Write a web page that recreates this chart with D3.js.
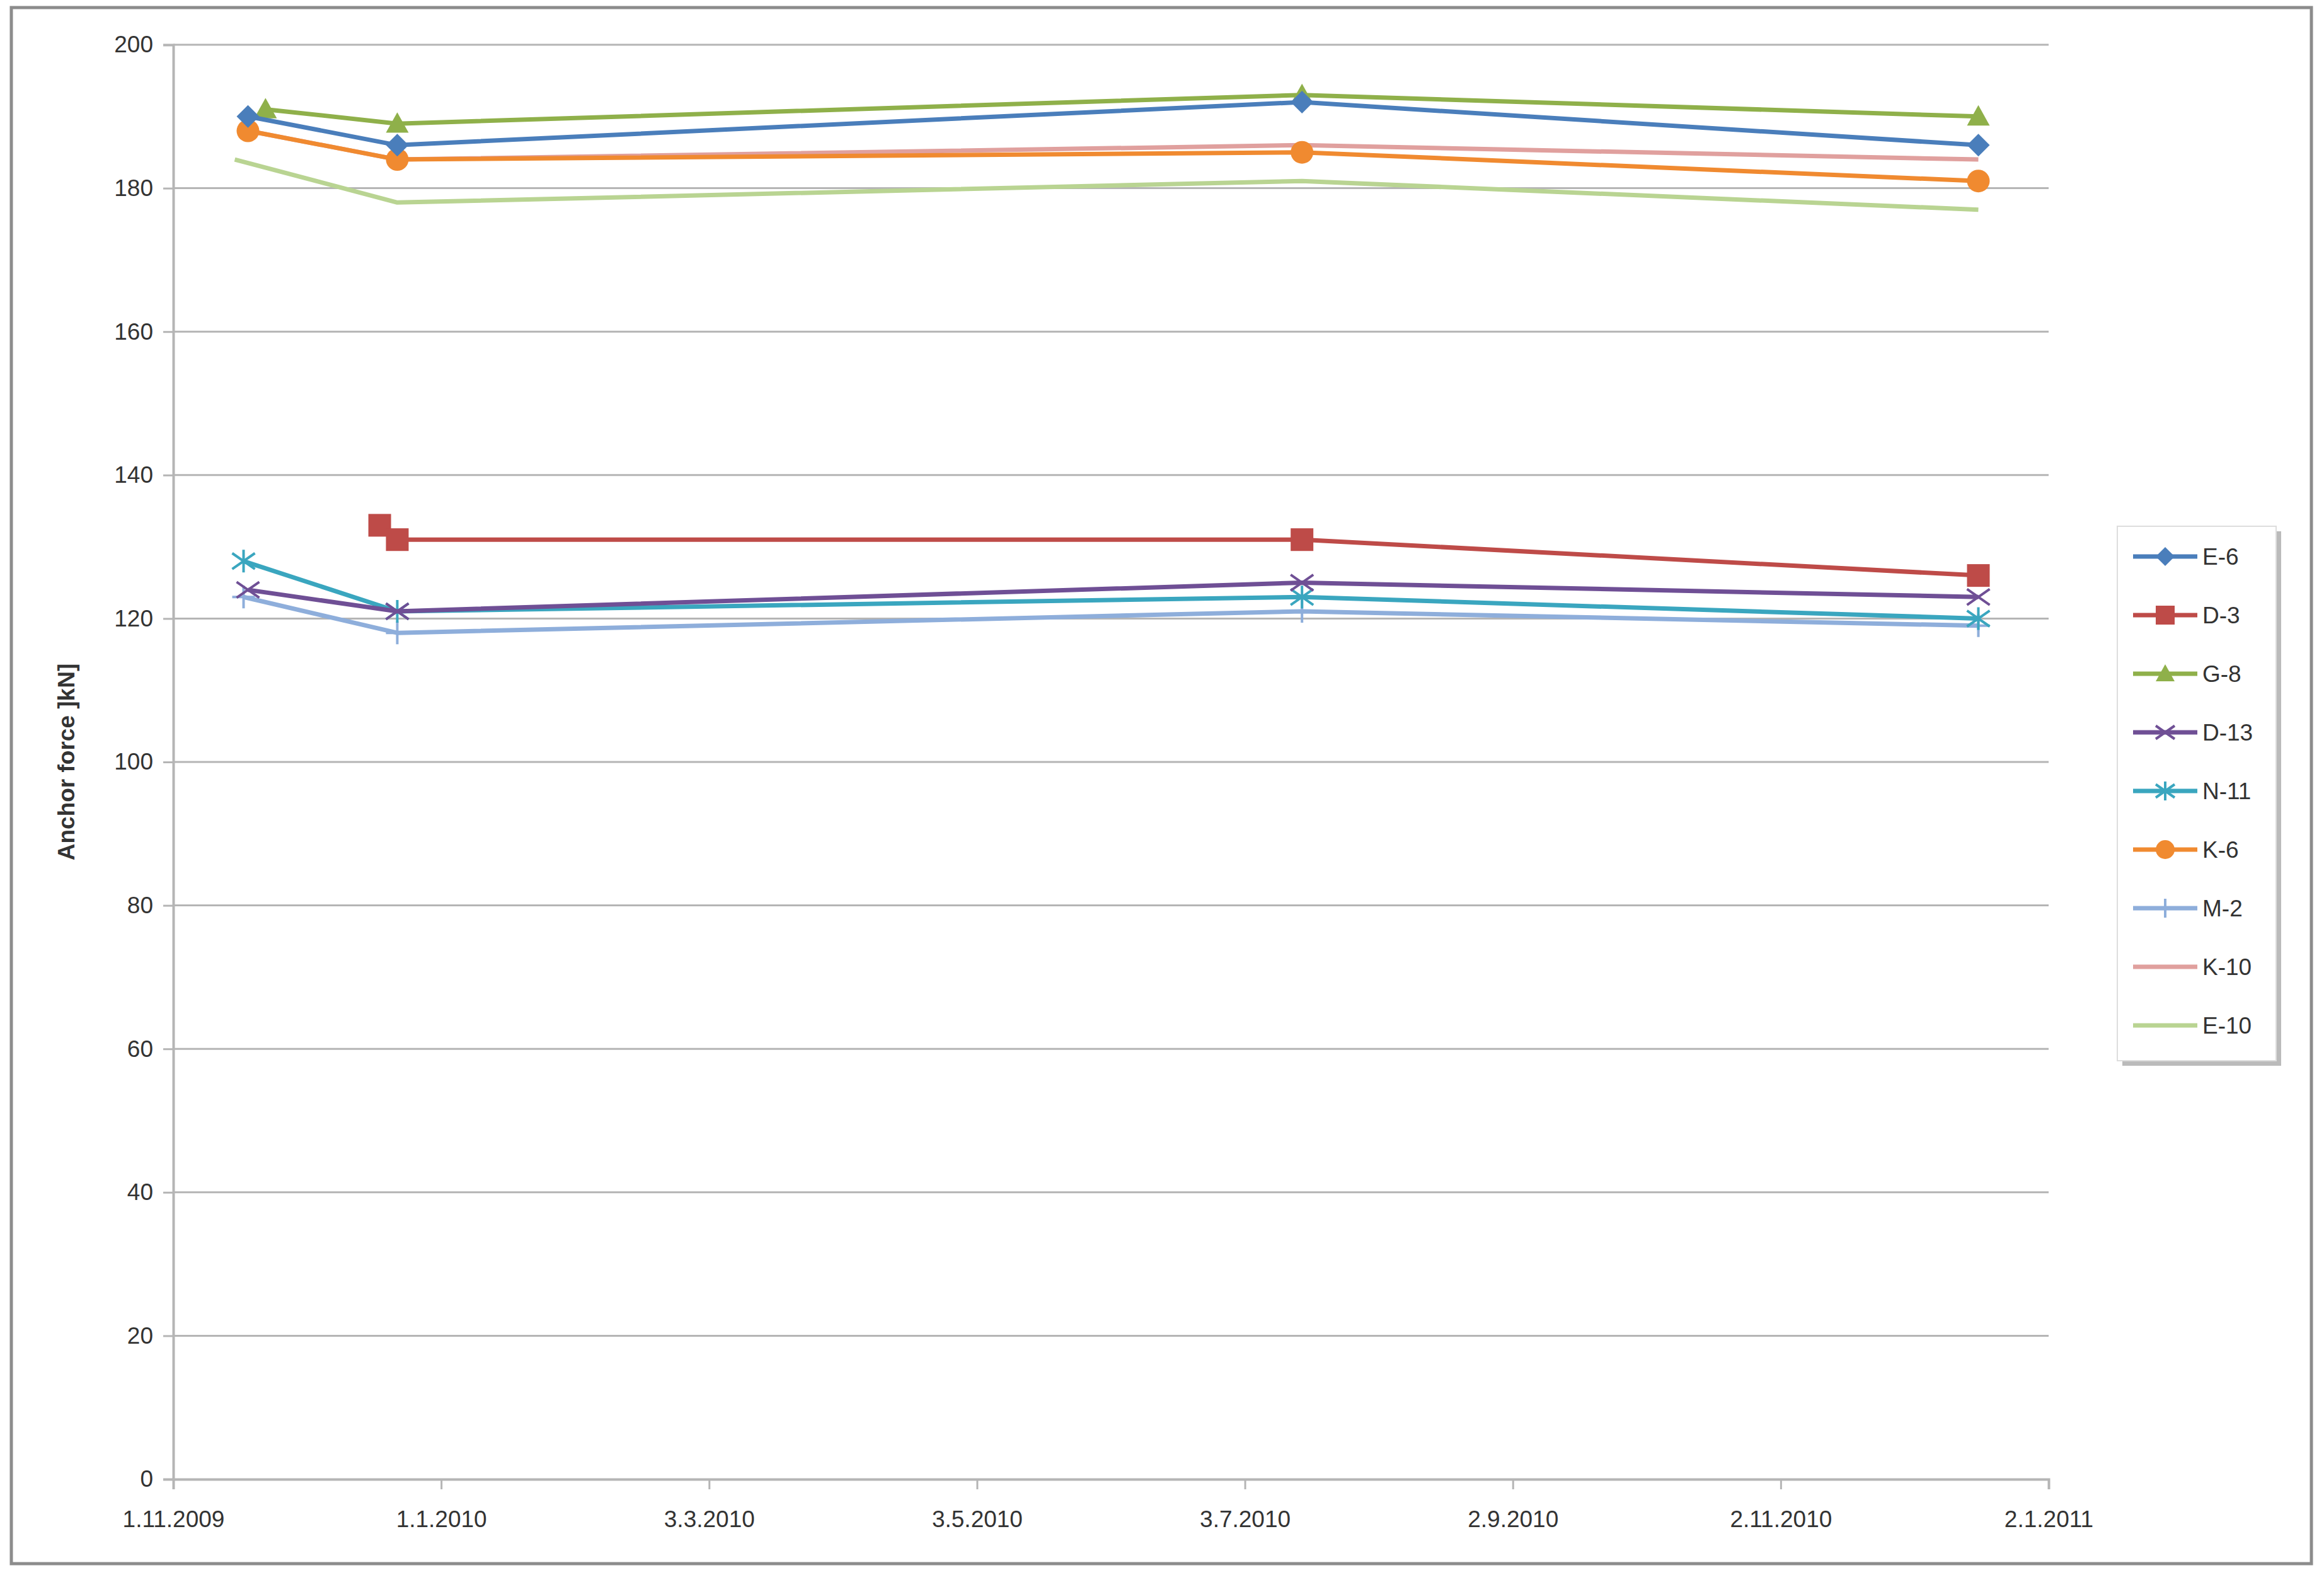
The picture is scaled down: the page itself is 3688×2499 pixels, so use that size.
<!DOCTYPE html>
<html>
<head>
<meta charset="utf-8">
<script src="https://cdn.jsdelivr.net/npm/d3@7"></script>
<style>
  body { margin: 0; background: #fff; }
  text { font-family: "Liberation Sans", Arial, sans-serif; fill: #333; }
</style>
</head>
<body>
<div id="chart"></div>
<script>
const seriesNames = ["E-6", "D-3", "G-8", "D-13", "N-11", "K-6", "M-2", "K-10", "E-10"];
const seriesColors = ["#4a7ebb", "#be4b48", "#8fb04a", "#6f4f95", "#3aa6bf", "#f08a30", "#8eaedb", "#e0a09e", "#b9d492"];
const seriesMarkers = ["diamond", "square", "triangle", "x", "asterisk", "circle", "plus", "none", "none"];

const seriesDates = [
  ["2009-11-18", "2009-12-22", "2010-07-16", "2010-12-17"],
  ["2009-12-18", "2009-12-22", "2010-07-16", "2010-12-17"],
  ["2009-11-22", "2009-12-22", "2010-07-16", "2010-12-17"],
  ["2009-11-18", "2009-12-22", "2010-07-16", "2010-12-17"],
  ["2009-11-17", "2009-12-22", "2010-07-16", "2010-12-17"],
  ["2009-11-18", "2009-12-22", "2010-07-16", "2010-12-17"],
  ["2009-11-17", "2009-12-22", "2010-07-16", "2010-12-17"],
  ["2009-11-18", "2009-12-22", "2010-07-16", "2010-12-17"],
  ["2009-11-15", "2009-12-22", "2010-07-16", "2010-12-17"]
];
const seriesValues = [
  [190, 186, 192, 186],
  [133, 131, 131, 126],
  [191, 189, 193, 190],
  [124, 121, 125, 123],
  [128, 121, 123, 120],
  [188, 184, 185, 181],
  [123, 118, 121, 119],
  [188, 184, 186, 184],
  [184, 178, 181, 177]
];

const xTickLabels = ["1.11.2009", "1.1.2010", "3.3.2010", "3.5.2010", "3.7.2010", "2.9.2010", "2.11.2010", "2.1.2011"];
const yTicks = [0, 20, 40, 60, 80, 100, 120, 140, 160, 180, 200];

const W = 3688, H = 2499;
const margin = {top: 71, right: 437, bottom: 152, left: 275};
const width = W - margin.left - margin.right,
    height = H - margin.top - margin.bottom;

const parse = d3.timeParse("%Y-%m-%d");
const start = parse("2009-11-01"), end = parse("2011-01-02");
const tickDates = d3.range(8).map(i => d3.timeDay.offset(start, i * 61));

const svg = d3.select("#chart").append("svg")
  .attr("width", W).attr("height", H);

svg.append("rect")
  .attr("x", 18).attr("y", 12).attr("width", W - 38).attr("height", H - 30)
  .attr("fill", "#fff").attr("stroke", "#8c8c8c").attr("stroke-width", 5);

const g = svg.append("g").attr("transform", `translate(${margin.left},${margin.top})`);

const x = d3.scaleTime().domain([start, end]).range([0, width]);
const y = d3.scaleLinear().domain([0, 200]).range([height, 0]);

// gridlines
g.append("g").selectAll("line").data(yTicks.slice(1)).join("line")
  .attr("x1", 0).attr("x2", width)
  .attr("y1", d => y(d)).attr("y2", d => y(d))
  .attr("stroke", "#b5b5b5").attr("stroke-width", 3);

const yAxis = g.append("g")
  .call(d3.axisLeft(y).tickValues(yTicks).tickSize(16).tickPadding(16));
yAxis.select(".domain").attr("stroke", "#b5b5b5").attr("stroke-width", 4);
yAxis.selectAll(".tick line").attr("stroke", "#b5b5b5").attr("stroke-width", 3);
yAxis.selectAll("text").style("font-size", "37px").attr("fill", "#333");

const xAxis = g.append("g").attr("transform", `translate(0,${height})`)
  .call(d3.axisBottom(x).tickValues(tickDates).tickFormat((d, i) => xTickLabels[i]).tickSize(16).tickPadding(34));
xAxis.select(".domain").attr("stroke", "#b5b5b5").attr("stroke-width", 4);
xAxis.selectAll(".tick line").attr("stroke", "#b5b5b5").attr("stroke-width", 3);
xAxis.selectAll("text").style("font-size", "37px").attr("fill", "#333");

svg.append("text")
  .attr("transform", `translate(118,${margin.top + height / 2}) rotate(-90)`)
  .attr("text-anchor", "middle")
  .style("font-size", "37px").style("font-weight", "bold").attr("fill", "#111")
  .text("Anchor force ]kN]");

function drawMarker(sel, type, color, s) {
  const h = s / 2;
  if (type === "diamond") sel.append("path").attr("d", `M0,${-h}L${h},0L0,${h}L${-h},0Z`).attr("fill", color);
  else if (type === "square") sel.append("rect").attr("x", -h).attr("y", -h).attr("width", s).attr("height", s).attr("fill", color);
  else if (type === "triangle") sel.append("path").attr("d", `M0,${-h}L${h},${h * 0.8}L${-h},${h * 0.8}Z`).attr("fill", color);
  else if (type === "circle") sel.append("circle").attr("r", h).attr("fill", color);
  else if (type === "x") sel.append("path").attr("d", `M${-h},${-h * 0.7}L${h},${h * 0.7}M${-h},${h * 0.7}L${h},${-h * 0.7}`).attr("stroke", color).attr("stroke-width", 4);
  else if (type === "asterisk") sel.append("path").attr("d", `M${-h},${-h * 0.7}L${h},${h * 0.7}M${-h},${h * 0.7}L${h},${-h * 0.7}M0,${-h}L0,${h}`).attr("stroke", color).attr("stroke-width", 4);
  else if (type === "plus") sel.append("path").attr("d", `M${-h},0L${h},0M0,${-h}L0,${h}`).attr("stroke", color).attr("stroke-width", 4);
}

const line = d3.line().x(d => x(d.date)).y(d => y(d.value));

// draw in reverse so E-6 etc. on top
d3.range(seriesNames.length).reverse().forEach(i => {
  const pts = seriesDates[i].map((d, j) => ({date: parse(d), value: seriesValues[i][j]}));
  g.append("path").datum(pts).attr("d", line)
    .attr("fill", "none").attr("stroke", seriesColors[i]).attr("stroke-width", 7)
    .attr("stroke-linejoin", "round");
  pts.forEach(p => {
    const m = g.append("g").attr("transform", `translate(${x(p.date)},${y(p.value)})`);
    drawMarker(m, seriesMarkers[i], seriesColors[i], 36);
  });
});

// legend
const lg = svg.append("g").attr("transform", "translate(3360,835)");
lg.append("rect").attr("x", 8).attr("y", 8).attr("width", 252).attr("height", 848).attr("fill", "#bbb");
lg.append("rect").attr("width", 252).attr("height", 848).attr("fill", "#fff").attr("stroke", "#ddd").attr("stroke-width", 2);
seriesNames.forEach((n, i) => {
  const yy = 48 + i * 93;
  lg.append("line").attr("x1", 25).attr("x2", 127).attr("y1", yy).attr("y2", yy)
    .attr("stroke", seriesColors[i]).attr("stroke-width", 7);
  const m = lg.append("g").attr("transform", `translate(76,${yy})`);
  drawMarker(m, seriesMarkers[i], seriesColors[i], 30);
  lg.append("text").attr("x", 135).attr("y", yy).attr("dy", "0.35em")
    .style("font-size", "37px").attr("fill", "#333").text(n);
});
</script>
</body>
</html>
